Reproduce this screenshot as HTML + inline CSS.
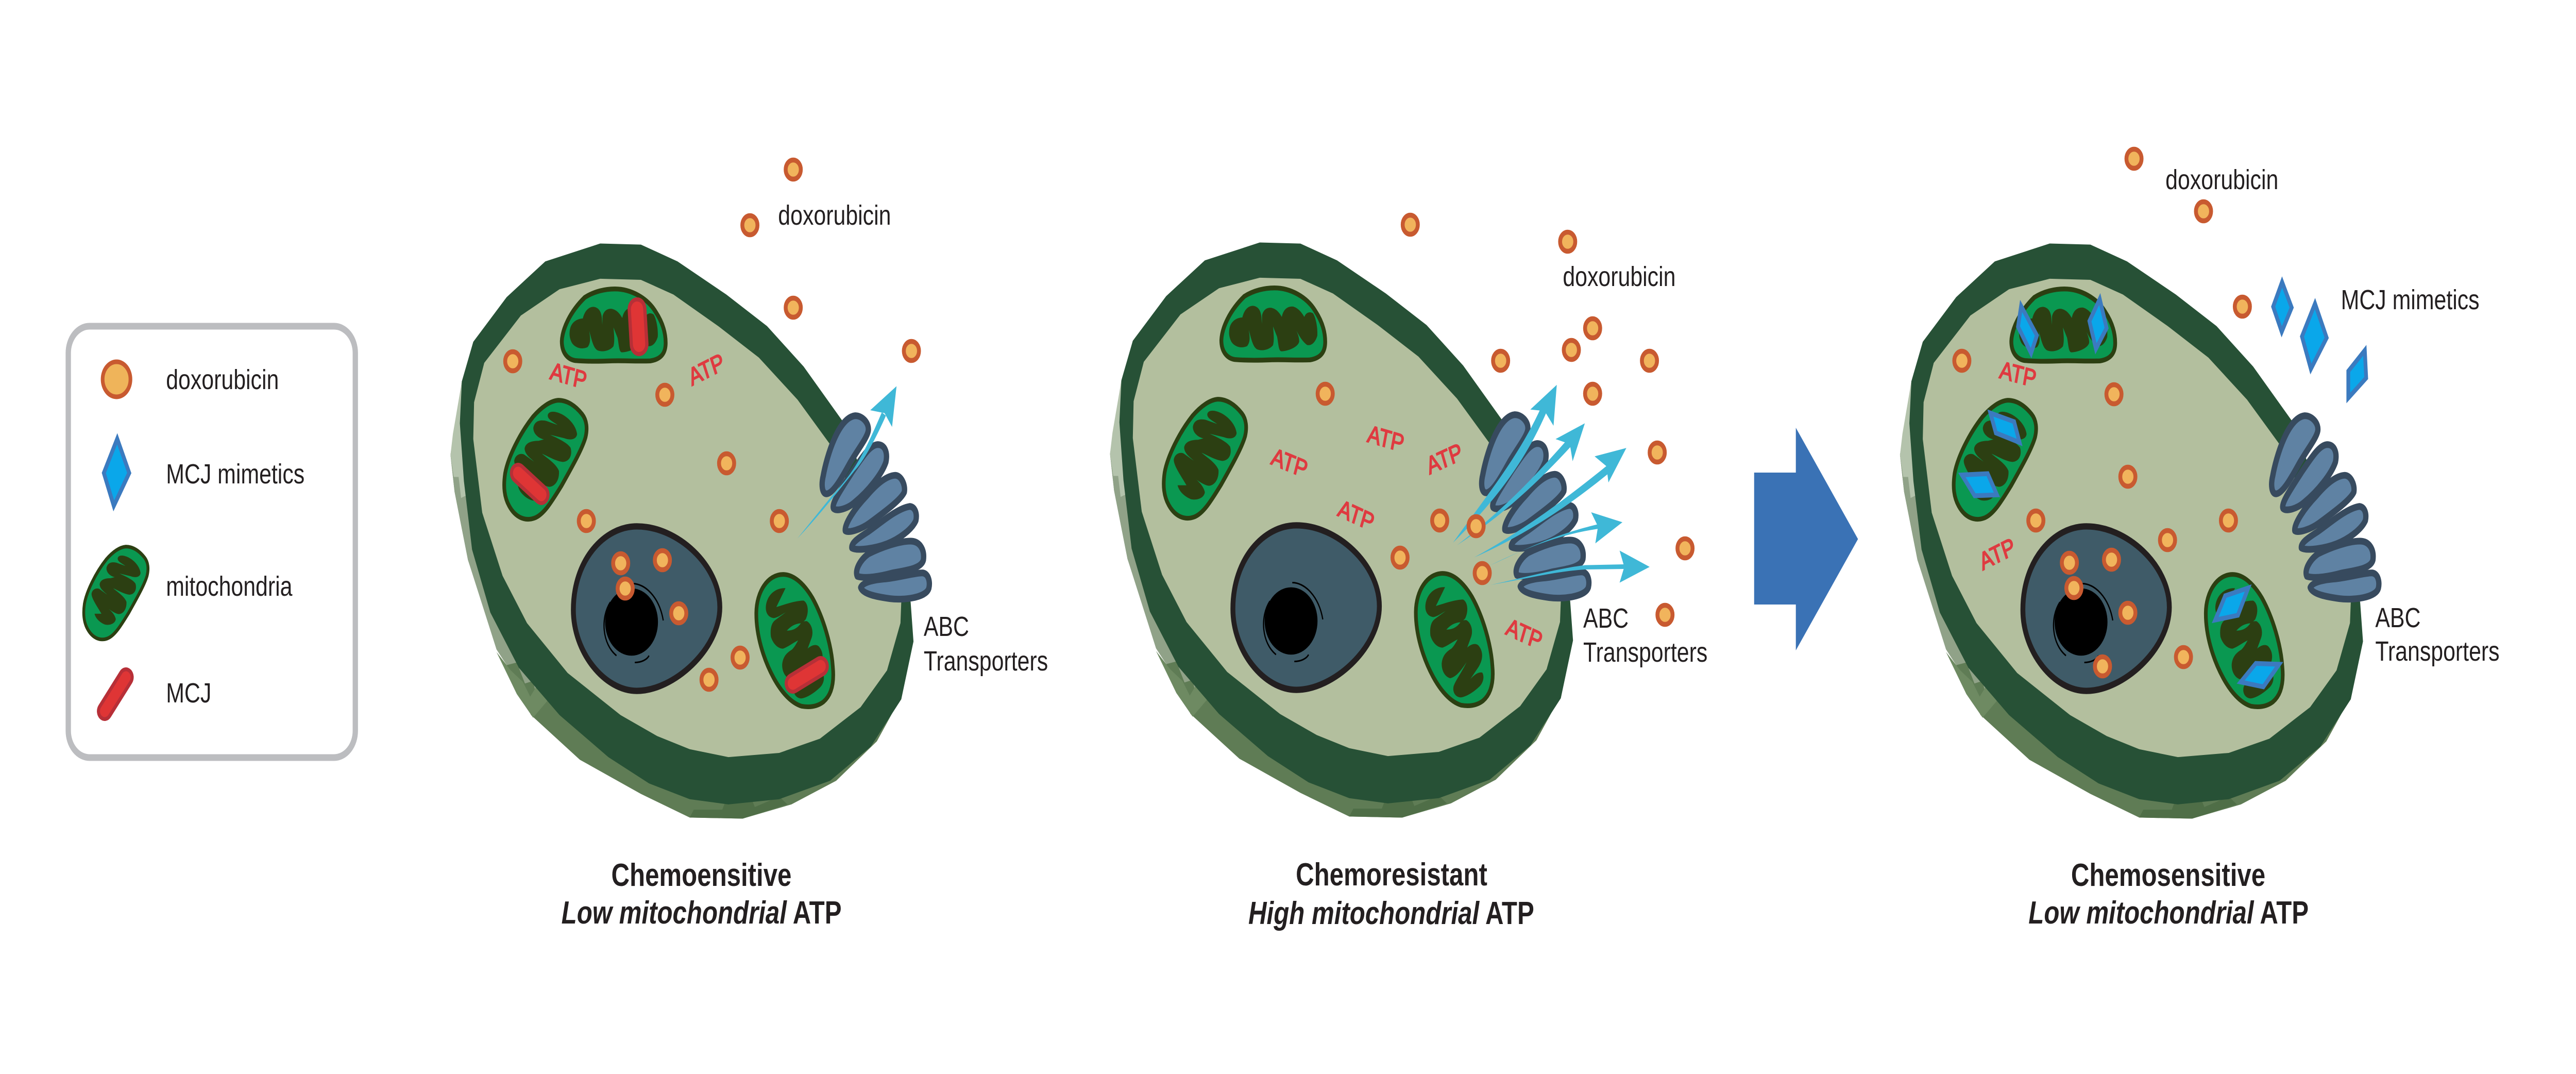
<!DOCTYPE html>
<html><head><meta charset="utf-8">
<style>
html,body{margin:0;padding:0;background:#fff;width:100%;height:100%;overflow:hidden}
svg{display:block;position:fixed;left:0;top:0;width:100vw;height:100vh}
text{font-family:"Liberation Sans",Arial,sans-serif;fill:#231f20;font-size:54px}
.t{font-weight:bold;font-size:62px}
.t tspan{font-style:italic}
.a{fill:#df3a40;font-size:48px;stroke:#df3a40;stroke-width:2}
.p{fill:#f1b45c;stroke:#c85a30;stroke-width:9.5}
.d{fill:#0aa7ea;stroke:#3b7abf;stroke-width:11;stroke-miterlimit:10;transform-box:fill-box;transform-origin:center;transform:scale(.84)}
.ar{fill:#3fb8d7}
</style></head>
<body>
<svg xmlns="http://www.w3.org/2000/svg" viewBox="0 0 6300 2084" preserveAspectRatio="none">
<rect width="6300" height="2084" fill="#fff"/>
<defs>
<g id="mitoB">
 <g transform="translate(1217,762) scale(.3333)">
  <path d="M445,44C510,44 570,75 620,125C655,160 660,210 645,260C620,330 540,440 470,540C400,630 340,710 270,730C200,750 130,725 85,660C50,610 40,550 55,470C75,380 160,240 260,140C320,85 385,48 445,44Z" fill="#0a9851" stroke="#2c3f12" stroke-width="27"/>
  <path d="M368,130C375,105 420,105 470,125C530,150 575,195 583,240C580,270 540,280 490,265L385,245C440,265 510,290 535,320C550,360 530,400 480,403C430,400 370,370 325,355C370,385 430,415 450,455C455,505 425,545 380,548C345,545 300,520 250,490C290,510 340,545 350,585C345,620 290,635 245,625C200,610 160,580 150,545L215,545C175,490 120,430 122,395C130,360 170,350 195,360L268,402C240,380 200,360 198,325C205,290 250,280 300,280L340,272C300,265 262,240 262,205C270,165 310,155 360,165L440,188C400,165 365,155 368,130Z" fill="#2c3f12"/>
 </g>
</g>
<g id="cell">
 <g transform="translate(1050,240) scale(.995,1.02)">
  <!-- shadow -->
  <polygon points="80,490 52,630 62,700 95,830 165,990 250,1125 370,1210 520,1275 640,1320 770,1322 890,1295 1000,1250 1100,1175 1160,1090 1000,900 300,800" fill="#5f7c55"/>
  <polygon points="80,490 52,630 62,700 95,830 165,1000 190,1030 215,1025 235,1065 255,1060 262,1085 300,1102 330,1040 300,800" fill="#90a288"/>
  <polygon points="80,490 58,590 52,630 60,672 72,672 78,712 110,700 120,560" fill="#b4c3ac"/>
  <polygon points="165,1005 200,1040 230,1062 248,1090 262,1072 290,1098 255,1130 215,1085" fill="#6e8a62"/>
  <polygon points="640,1320 650,1305 720,1305 735,1275 790,1280 800,1300 860,1280 880,1295 770,1322" fill="#4f6e47"/>
  <!-- membrane -->
  <polygon points="420,228 520,230 610,262 730,325 830,385 920,462 1015,565 1183,910 1190,985 1160,1095 1085,1185 985,1250 860,1285 735,1295 640,1285 540,1255 440,1205 320,1125 220,1035 150,930 105,810 85,680 75,570 80,490 108,415 190,330 285,262" fill="#275136"/>
  <polygon points="420,295 520,297 600,325 710,385 810,445 905,525 985,610 1160,910 1158,950 1125,1040 1060,1110 960,1170 860,1197 735,1205 640,1190 560,1165 470,1125 340,1045 240,950 180,860 130,740 108,600 110,530 135,455 225,365 320,315" fill="#b3bf9e"/>
  <!-- nucleus -->
  <path d="M354,925C354,830 430,766 510,766C610,766 714,840 714,920C714,1000 600,1079 510,1079C430,1079 354,1005 354,925Z" fill="#3f5b68" stroke="#231f20" stroke-width="12"/>
  <ellipse cx="497" cy="948" rx="65" ry="64" fill="#000"/>
  <path d="M445,910C420,940 425,990 460,1012M500,875C530,875 565,900 575,945M505,1025C520,1025 535,1020 540,1012" fill="none" stroke="#000" stroke-width="3"/>
 </g>
 <!-- dome mito -->
 <g transform="translate(1337,542) scale(.3333)">
  <path d="M111,360C115,290 170,190 280,105C350,70 430,56 500,56C620,56 740,110 800,190C850,250 873,310 873,370C873,430 840,465 760,475C650,478 550,472 470,475C380,478 290,478 210,473C150,465 111,425 111,360Z" fill="#0a9851" stroke="#2c3f12" stroke-width="28"/>
  <path d="M168,310C170,260 210,230 265,228C280,180 310,160 345,160C385,165 400,190 405,225L408,265L410,215C420,180 450,168 480,172C520,180 540,205 555,225C565,180 600,160 640,165C680,175 705,205 720,225C730,200 760,190 785,205C810,240 818,300 815,335C800,375 770,395 740,388C700,365 670,320 640,270C660,300 685,340 682,370C670,405 590,425 550,425C530,420 530,380 520,340L490,280C495,320 500,360 490,390C460,420 400,425 370,412C340,395 330,350 312,300C320,340 325,370 300,395C260,410 210,400 185,370C172,350 166,330 168,310Z" fill="#2c3f12"/>
 </g>
 <use href="#mitoB"/>
 <!-- lower mito -->
 <g transform="translate(1827,1092) scale(.3333)">
  <path d="M68,290C70,170 150,68 265,68C345,68 420,125 480,205C560,320 620,480 630,610C640,700 620,770 560,810C510,840 450,842 400,835C320,815 250,750 195,670C120,560 66,420 68,290Z" fill="#0a9851" stroke="#2c3f12" stroke-width="27"/>
  <path d="M138,255C145,190 205,145 282,148C260,185 235,225 215,258C285,240 360,220 415,220C450,235 455,290 430,330C410,350 380,352 355,355C390,345 420,338 440,340C480,360 490,410 470,445L445,500C470,480 510,470 530,490C565,525 560,570 530,610L468,683C495,660 525,640 555,645C575,670 560,710 530,730C490,760 440,785 400,790C360,790 335,760 345,725C360,690 400,650 440,585C410,620 370,670 320,678C280,670 255,630 258,590C265,540 300,520 330,505C350,490 365,465 375,452C340,465 300,490 265,500C225,500 190,470 175,430C168,385 180,350 205,335L285,288C255,300 225,320 195,322C155,318 135,290 138,255Z" fill="#2c3f12"/>
  <path d="M292,395C320,370 350,355 395,352C375,375 345,395 292,395Z" fill="#0a9851"/>
 </g>
 <!-- transporters -->
 <g transform="translate(1950,700) scale(.3333)" fill="#5f82a3" stroke="#374a5e" stroke-width="39" stroke-linejoin="round">
  <path d="M425,320C480,320 530,365 520,410C510,450 450,510 390,590C340,660 270,770 215,775C180,775 175,720 190,670C215,560 300,330 425,320Z"/>
  <path d="M590,488C640,488 665,530 650,590C620,660 520,760 420,825C370,860 290,880 265,860C250,830 320,750 400,650C470,570 530,490 590,488Z"/>
  <path d="M715,667C760,665 795,720 785,765C760,810 640,880 530,945C470,980 380,1005 352,990C345,950 420,860 510,785C590,710 660,670 715,667Z"/>
  <path d="M825,848C865,850 880,890 870,930C840,985 740,1040 660,1065C580,1090 440,1110 400,1090C395,1060 450,1030 520,995C610,945 730,860 825,848Z"/>
  <path d="M920,1235C965,1240 975,1290 965,1325C945,1380 780,1395 680,1385C590,1375 480,1360 465,1320C480,1290 560,1275 650,1270C760,1260 860,1235 920,1235Z"/>
  <path d="M830,1050C900,1050 935,1100 925,1160C910,1210 800,1220 700,1235C610,1255 500,1270 440,1255C420,1220 460,1160 520,1125C620,1085 750,1050 830,1050Z"/>
 </g>
</g>
</defs>

<!-- legend -->
<rect x="167" y="633" width="702" height="837" rx="52" ry="52" fill="#fff" stroke="#bcbdc0" stroke-width="13"/>
<circle cx="285" cy="736" r="34" fill="#efb45a" stroke="#c85a30" stroke-width="9"/>
<polygon points="287,839 322,918 277,994 248,918" class="d"/>
<use href="#mitoB" transform="translate(200,1057) scale(.78) translate(-1227,-772)"/>
<line x1="256" y1="1380" x2="308" y2="1314" stroke="#b72f37" stroke-width="38" stroke-linecap="round"/>
<line x1="256" y1="1380" x2="308" y2="1314" stroke="#df3535" stroke-width="23" stroke-linecap="round"/>
<text x="406" y="755">doxorubicin</text>
<text x="406" y="938">MCJ mimetics</text>
<text x="406" y="1156">mitochondria</text>
<text x="406" y="1363">MCJ</text>

<!-- cell 1 -->
<use href="#cell"/>
<g fill="none" stroke-linecap="round">
 <line x1="1558" y1="600" x2="1563" y2="668" stroke="#b72f37" stroke-width="46"/>
 <line x1="1558" y1="600" x2="1563" y2="668" stroke="#df3535" stroke-width="30"/>
 <line x1="1267" y1="918" x2="1324" y2="960" stroke="#b72f37" stroke-width="40"/>
 <line x1="1267" y1="918" x2="1324" y2="960" stroke="#df3535" stroke-width="25"/>
 <line x1="1939" y1="1326" x2="2007" y2="1293" stroke="#b72f37" stroke-width="40"/>
 <line x1="1939" y1="1326" x2="2007" y2="1293" stroke="#df3535" stroke-width="25"/>
</g>
<g transform="translate(1950,700) scale(.3333)" class="ar">
 <path d="M0,1035L250,790C400,660 470,580 620,300L650,320C560,480 480,590 420,640C300,760 150,910 0,1035Z"/>
 <polygon points="728,148 535,288 640,305 695,385"/>
</g>
<g class="p">
 <circle cx="1940" cy="329" r="18.5"/><circle cx="1834" cy="437" r="18.5"/><circle cx="1940" cy="597" r="18.5"/><circle cx="2229" cy="681" r="18.5"/>
 <circle cx="1254" cy="701" r="18.5"/><circle cx="1626" cy="766" r="18.5"/><circle cx="1777" cy="899" r="18.5"/><circle cx="1434" cy="1011" r="18.5"/>
 <circle cx="1906" cy="1011" r="18.5"/><circle cx="1518" cy="1093" r="18.5"/><circle cx="1620" cy="1087" r="18.5"/><circle cx="1529" cy="1142" r="18.5"/>
 <circle cx="1660" cy="1190" r="18.5"/><circle cx="1810" cy="1276" r="18.5"/><circle cx="1734" cy="1319" r="18.5"/>
</g>
<text class="a" transform="translate(1343,735) rotate(13)">ATP</text>
<text class="a" transform="translate(1692,749) rotate(-22)">ATP</text>
<text x="1903" y="436">doxorubicin</text>
<text x="2259" y="1234">ABC</text>
<text x="2259" y="1301">Transporters</text>
<text class="t" x="1495" y="1719">Chemoensitive</text>
<text class="t" x="1373" y="1792"><tspan>Low mitochondrial</tspan> ATP</text>

<!-- cell 2 -->
<use href="#cell" transform="translate(1613,-2)"/>
<g transform="translate(2680,340) scale(.995,.957)" class="ar">
 <path d="M878,745C960,650 1040,570 1095,470L1108,480C1050,590 970,670 878,745Z"/>
 <polygon points="1133,425 1068,475 1103,478 1125,508"/>
 <path d="M888,750C1000,680 1080,610 1160,535L1170,548C1090,620 1000,690 888,750Z"/>
 <polygon points="1202,503 1130,535 1165,545 1172,580"/>
 <path d="M930,775C1050,720 1150,660 1262,585L1270,598C1150,680 1040,735 930,775Z"/>
 <polygon points="1304,553 1226,570 1255,590 1260,623"/>
</g>
<g transform="translate(3540,900) scale(.3827,.3333)" class="ar">
 <path d="M275,590C450,520 650,420 960,352L965,378C720,410 500,490 275,590Z"/>
 <polygon points="1118,340 918,282 962,365 945,463"/>
 <path d="M275,705C500,660 700,610 880,590L1135,585L1135,612L880,615C700,625 500,670 275,705Z"/>
 <polygon points="1292,600 1100,505 1130,600 1100,692"/>
</g>
<g class="p">
 <circle cx="3449" cy="436" r="18.5"/><circle cx="3834" cy="469" r="18.5"/><circle cx="3895" cy="637" r="18.5"/><circle cx="3843" cy="679" r="18.5"/>
 <circle cx="3670" cy="700" r="18.5"/><circle cx="4034" cy="700" r="18.5"/><circle cx="3895" cy="764" r="18.5"/><circle cx="3241" cy="764" r="18.5"/>
 <circle cx="4053" cy="878" r="18.5"/><circle cx="3521" cy="1010" r="18.5"/><circle cx="3610" cy="1021" r="18.5"/><circle cx="3424" cy="1082" r="18.5"/>
 <circle cx="4121" cy="1064" r="18.5"/><circle cx="3625" cy="1112" r="18.5"/><circle cx="4072" cy="1193" r="18.5"/>
</g>
<text class="a" transform="translate(3342,857) rotate(13)">ATP</text>
<text class="a" transform="translate(3106,900) rotate(18)">ATP</text>
<text class="a" transform="translate(3496,921) rotate(-20)">ATP</text>
<text class="a" transform="translate(3269,1000) rotate(20)">ATP</text>
<text class="a" transform="translate(3680,1230) rotate(20)">ATP</text>
<text x="3822" y="555">doxorubicin</text>
<text x="3872" y="1218">ABC</text>
<text x="3872" y="1284">Transporters</text>
<text class="t" x="3169" y="1718">Chemoresistant</text>
<text class="t" x="3053" y="1793"><tspan>High mitochondrial</tspan> ATP</text>

<!-- big arrow -->
<polygon points="4290,917 4392,917 4392,830 4544,1046 4392,1262 4392,1173 4290,1173" fill="#3a72b5"/>

<!-- cell 3 -->
<use href="#cell" transform="translate(3545,0)"/>
<polygon class="d" points="5581,538 5609,597 5580,653 5555,595"/>
<polygon class="d" points="5662,577 5696,656 5650,728 5624,653"/>
<polygon class="d" points="5787,671 5791,735 5739,781 5739,719"/>
<polygon class="d" points="4940,585 4986,653 4969,694 4931,633"/>
<polygon class="d" points="5136,571 5156,638 5125,686 5106,622"/>
<polygon class="d" points="4861,796 4930,816 4946,864 4877,842"/>
<polygon class="d" points="4790,918 4865,915 4892,964 4827,966"/>
<polygon class="d" points="5506,1135 5476,1198 5410,1209 5439,1153"/>
<polygon class="d" points="5583,1285 5537,1337 5471,1326 5515,1283"/>
<g class="p">
 <circle cx="5219" cy="308" r="18.5"/><circle cx="5389" cy="410" r="18.5"/><circle cx="5484" cy="595" r="18.5"/><circle cx="4798" cy="700" r="18.5"/>
 <circle cx="5170" cy="765" r="18.5"/><circle cx="5204" cy="925" r="18.5"/><circle cx="4979" cy="1010" r="18.5"/><circle cx="5450" cy="1010" r="18.5"/>
 <circle cx="5301" cy="1048" r="18.5"/><circle cx="5061" cy="1092" r="18.5"/><circle cx="5164" cy="1086" r="18.5"/><circle cx="5072" cy="1141" r="18.5"/>
 <circle cx="5204" cy="1189" r="18.5"/><circle cx="5340" cy="1275" r="18.5"/><circle cx="5142" cy="1293" r="18.5"/>
</g>
<text class="a" transform="translate(4888,733) rotate(12)">ATP</text>
<text class="a" transform="translate(4849,1107) rotate(-22)">ATP</text>
<text x="5296" y="367">doxorubicin</text>
<text x="5725" y="600">MCJ mimetics</text>
<text x="5809" y="1217">ABC</text>
<text x="5809" y="1282">Transporters</text>
<text class="t" x="5065" y="1719">Chemosensitive</text>
<text class="t" x="4961" y="1792"><tspan>Low mitochondrial</tspan> ATP</text>
</svg>
</body></html>
